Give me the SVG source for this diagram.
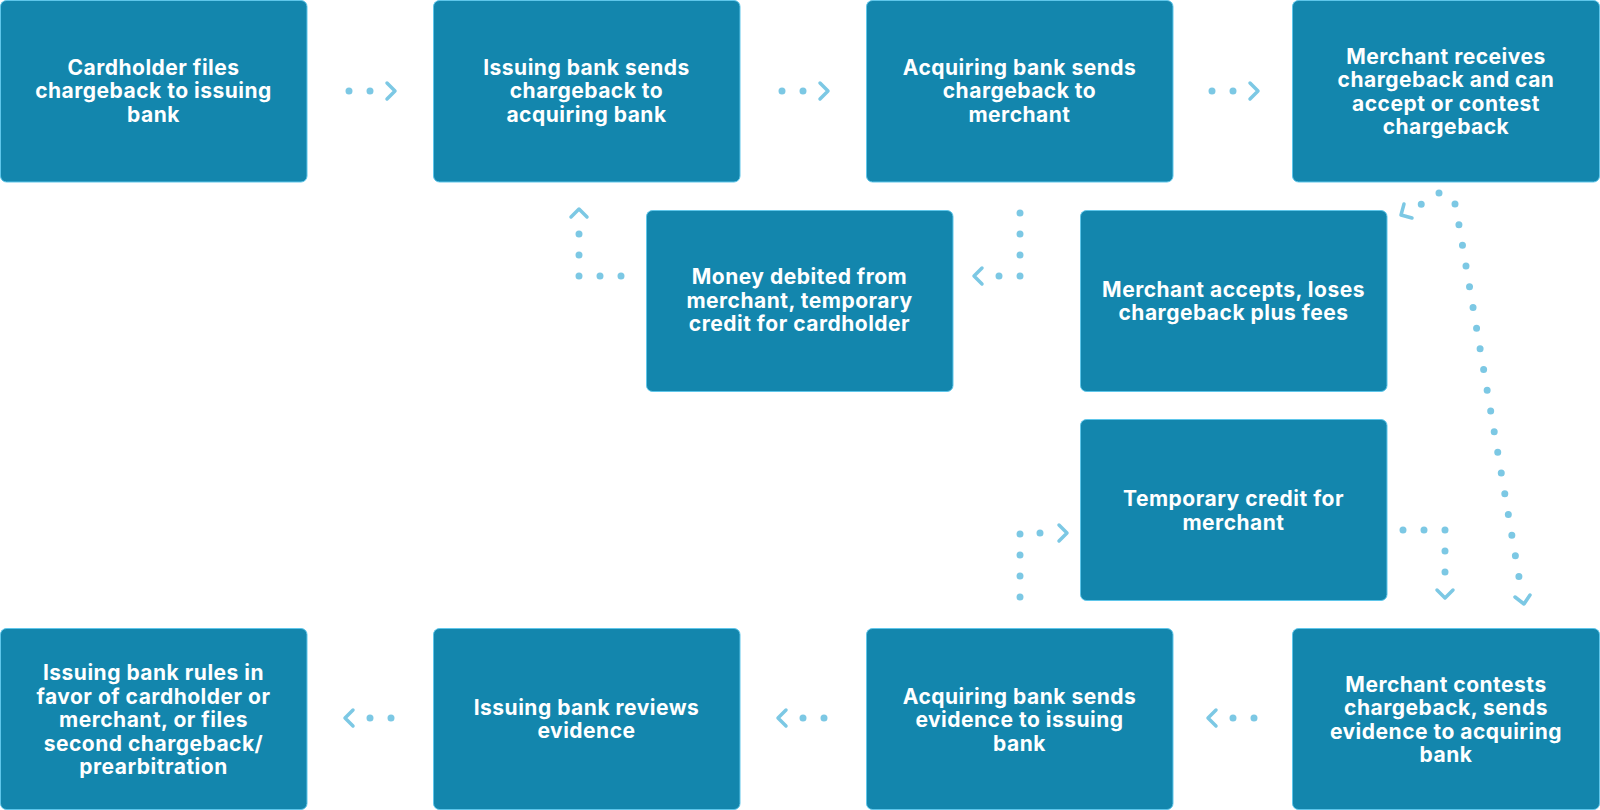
<svg xmlns="http://www.w3.org/2000/svg" width="1600" height="810" viewBox="0 0 1600 810">
<style>
.box{fill:#1386ad;stroke:#5ec6ea;stroke-width:1}
.t{font-family:Inter,"Open Sans","Liberation Sans",sans-serif;font-weight:700;font-size:21px;fill:#ffffff;text-anchor:middle;letter-spacing:0.5px}
.dots{fill:none;stroke:#7cc8e4;stroke-width:7;stroke-linecap:round;stroke-dasharray:0 21}
.chev{fill:none;stroke:#7cc8e4;stroke-width:3.5;stroke-linecap:round;stroke-linejoin:round}
</style>
<rect width="1600" height="810" fill="#ffffff"/>
<g id="connectors">
  <path class="dots" d="M349,91 H371"/>
  <path class="chev" d="M387,83 L395,91 L387,99"/>
  <path class="dots" d="M782,91 H804"/>
  <path class="chev" d="M820,83 L828,91 L820,99"/>
  <path class="dots" d="M1212,91 H1234"/>
  <path class="chev" d="M1250,83 L1258,91 L1250,99"/>
  <path class="dots" d="M1020,213 V276 H998"/>
  <path class="chev" d="M982,268 L974,276 L982,284"/>
  <path class="dots" d="M621,276 H579 V233"/>
  <path class="chev" d="M571,217 L579,209 L587,217"/>
  <path class="dots" d="M1439,193 L1420,205"/>
  <path class="chev" d="M1404,204 L1401,215 L1412,218"/>
  <path class="dots" d="M1455,204 L1459,225 L1520,583"/>
  <path class="chev" d="M1515,597 L1524,604 L1530,595"/>
  <path class="dots" d="M1403,530 H1445 V573"/>
  <path class="chev" d="M1437,590 L1445,598 L1453,590"/>
  <path class="dots" d="M1020,597 V533 H1042"/>
  <path class="chev" d="M1059,525 L1067,533 L1059,541"/>
  <path class="dots" d="M1254,718 H1232"/>
  <path class="chev" d="M1216,710 L1208,718 L1216,726"/>
  <path class="dots" d="M824,718 H802"/>
  <path class="chev" d="M786,710 L778,718 L786,726"/>
  <path class="dots" d="M391,718 H369"/>
  <path class="chev" d="M353,710 L345,718 L353,726"/>
</g>
<g id="n1"><rect class="box" x="0.5" y="0.5" width="306.5" height="181.5" rx="6"/>
<text class="t" x="153.5" y="74.5">Cardholder files</text><text class="t" x="153.5" y="98">chargeback to issuing</text><text class="t" x="153.5" y="121.5">bank</text></g>
<g id="n2"><rect class="box" x="433.5" y="0.5" width="306.5" height="181.5" rx="6"/>
<text class="t" x="586.5" y="74.5">Issuing bank sends</text><text class="t" x="586.5" y="98">chargeback to</text><text class="t" x="586.5" y="121.5">acquiring bank</text></g>
<g id="n3"><rect class="box" x="866.5" y="0.5" width="306.5" height="181.5" rx="6"/>
<text class="t" x="1019.5" y="74.5">Acquiring bank sends</text><text class="t" x="1019.5" y="98">chargeback to</text><text class="t" x="1019.5" y="121.5">merchant</text></g>
<g id="n4"><rect class="box" x="1292.5" y="0.5" width="307" height="181.5" rx="6"/>
<text class="t" x="1446" y="63.5">Merchant receives</text><text class="t" x="1446" y="87">chargeback and can</text><text class="t" x="1446" y="110.5">accept or contest</text><text class="t" x="1446" y="134">chargeback</text></g>
<g id="n5"><rect class="box" x="646.5" y="210.5" width="306.5" height="181" rx="6"/>
<text class="t" x="799.5" y="284">Money debited from</text><text class="t" x="799.5" y="307.5">merchant, temporary</text><text class="t" x="799.5" y="331">credit for cardholder</text></g>
<g id="n6"><rect class="box" x="1080.5" y="210.5" width="306.5" height="181" rx="6"/>
<text class="t" x="1233.5" y="296.5">Merchant accepts, loses</text><text class="t" x="1233.5" y="320">chargeback plus fees</text></g>
<g id="n7"><rect class="box" x="1080.5" y="419.5" width="306.5" height="181" rx="6"/>
<text class="t" x="1233.5" y="506">Temporary credit for</text><text class="t" x="1233.5" y="529.5">merchant</text></g>
<g id="n8"><rect class="box" x="1292.5" y="628.5" width="307" height="181" rx="6"/>
<text class="t" x="1446" y="691.5">Merchant contests</text><text class="t" x="1446" y="715">chargeback, sends</text><text class="t" x="1446" y="738.5">evidence to acquiring</text><text class="t" x="1446" y="762">bank</text></g>
<g id="n9"><rect class="box" x="866.5" y="628.5" width="306.5" height="181" rx="6"/>
<text class="t" x="1019.5" y="703.5">Acquiring bank sends</text><text class="t" x="1019.5" y="727">evidence to issuing</text><text class="t" x="1019.5" y="750.5">bank</text></g>
<g id="n10"><rect class="box" x="433.5" y="628.5" width="306.5" height="181" rx="6"/>
<text class="t" x="586.5" y="714.5">Issuing bank reviews</text><text class="t" x="586.5" y="738">evidence</text></g>
<g id="n11"><rect class="box" x="0.5" y="628.5" width="306.5" height="181" rx="6"/>
<text class="t" x="153.5" y="680">Issuing bank rules in</text><text class="t" x="153.5" y="703.5">favor of cardholder or</text><text class="t" x="153.5" y="727">merchant, or files</text><text class="t" x="153.5" y="750.5">second chargeback/</text><text class="t" x="153.5" y="774">prearbitration</text></g>
</svg>
